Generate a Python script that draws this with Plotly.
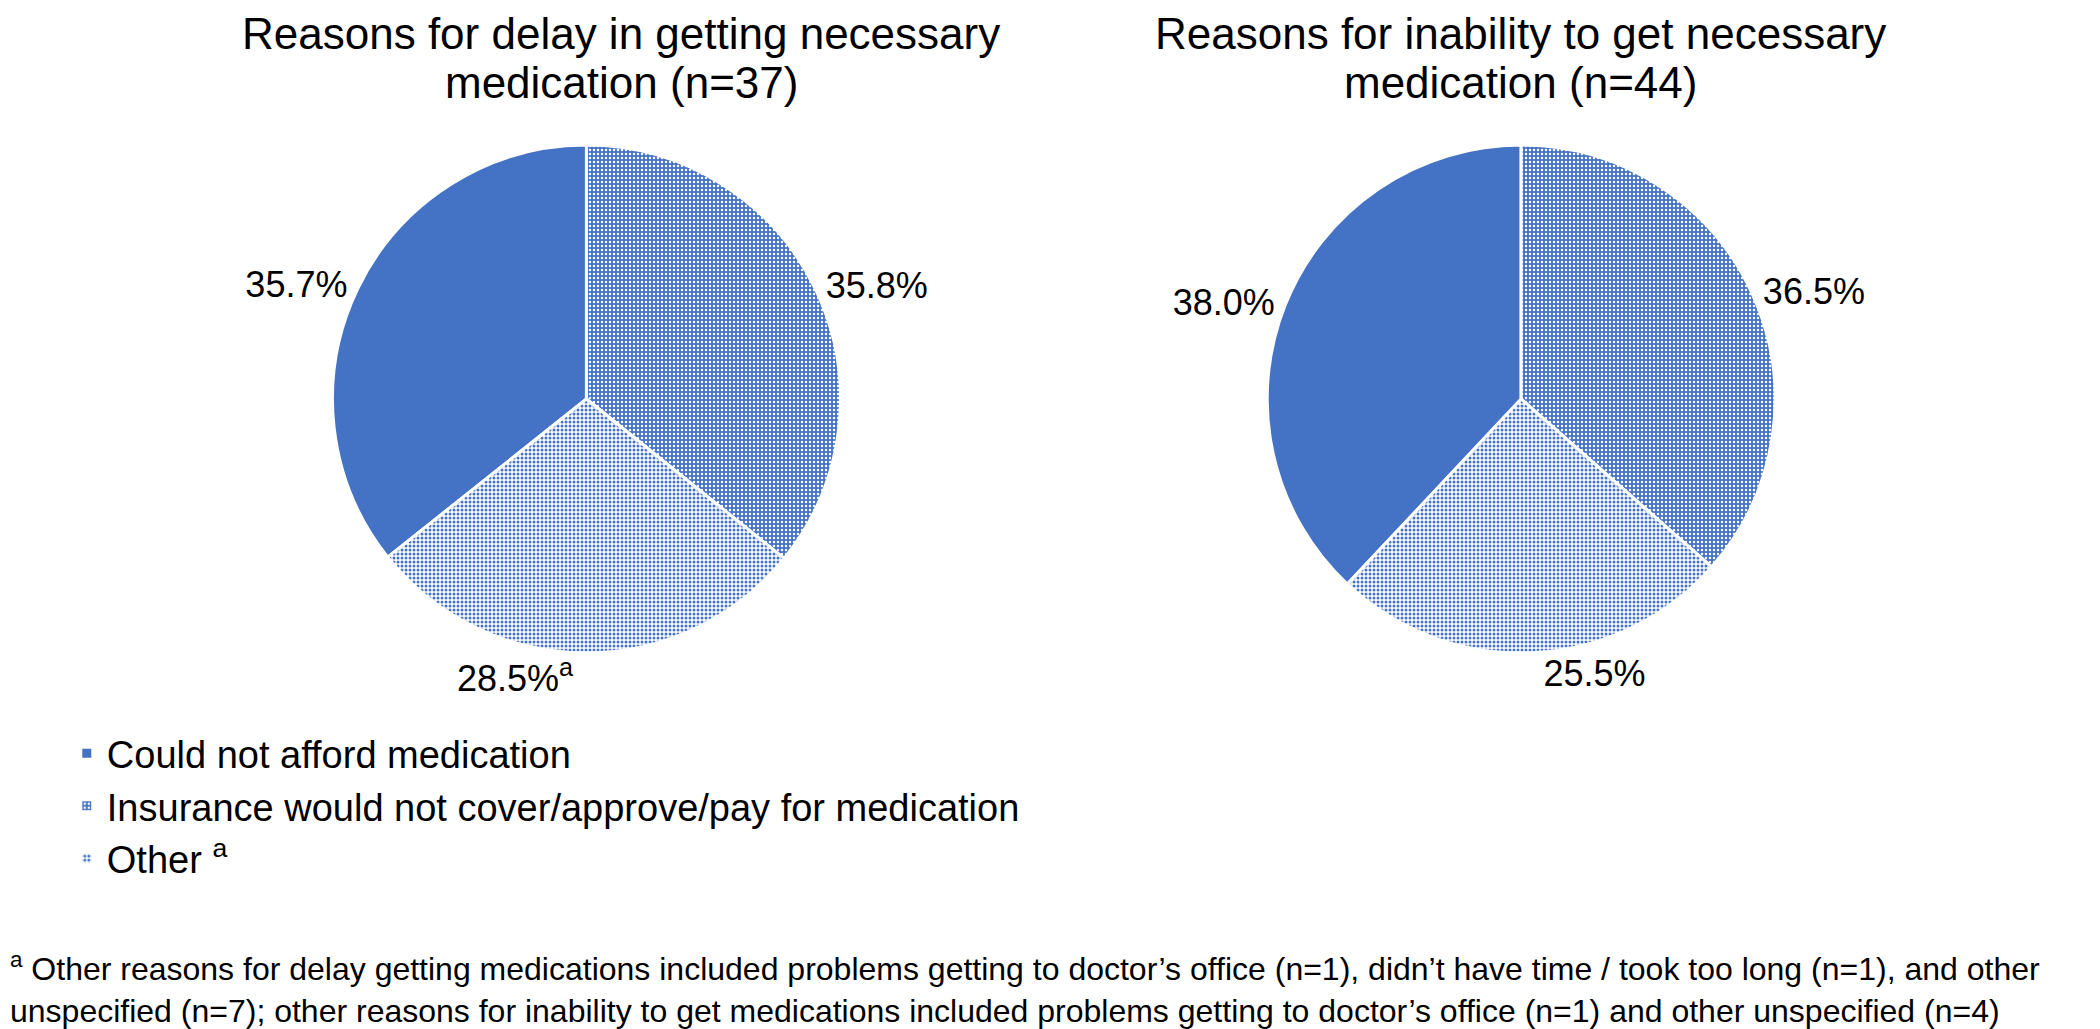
import plotly.graph_objects as go

categories = ["Could not afford medication",
              "Insurance would not cover/approve/pay for medication",
              "Other <sup>a</sup>"]
delay_values = [35.7, 35.8, 28.5]
inability_values = [38.0, 36.5, 25.5]
delay_labels = ["35.7%", "35.8%", "28.5%<sup>a</sup>"]
inability_labels = ["38.0%", "36.5%", "25.5%"]
title_lines = [["Reasons for delay in getting necessary", "medication (n=37)"],
               ["Reasons for inability to get necessary", "medication (n=44)"]]
footnote = ("<sup>a</sup> Other reasons for delay getting medications included problems getting to doctor’s office (n=1), "
            "didn’t have time / took too long (n=1), and other<br>unspecified (n=7); other reasons for inability to get "
            "medications included problems getting to doctor’s office (n=1) and other unspecified (n=4)")

FONT = "Liberation Sans, Arial"
BLUE = "#4472C4"
W, H = 2100, 1029

pattern = dict(shape=["", ".", "."],
               fgcolor=[BLUE, "white", BLUE],
               bgcolor=[BLUE, BLUE, "white"],
               size=[4, 4, 4],
               solidity=[0.3, 0.3, 0.45],
               fillmode="replace")

def pie(values, labels, domain_x, showlegend):
    return go.Pie(
        labels=categories, values=values, text=labels,
        texttemplate="%{text}", textposition="outside",
        textfont=dict(family=FONT, size=36, color="black"),
        sort=False, direction="clockwise",
        rotation=-values[0] * 3.6,
        marker=dict(colors=[BLUE, BLUE, BLUE], line=dict(color="white", width=3), pattern=pattern),
        domain=dict(x=domain_x, y=[0.3732, 0.8668]),
        showlegend=showlegend, hoverinfo="skip", automargin=False,
    )

fig = go.Figure()
fig.add_trace(pie(delay_values, delay_labels, [0.1545, 0.3964], True))
fig.add_trace(pie(inability_values, inability_labels, [0.5996, 0.8415], False))

title_x = [0.292, 0.720]
line_y = [1.0, 0.9524]
for tx, lines in zip(title_x, title_lines):
    for ly, line in zip(line_y, lines):
        fig.add_annotation(text=line, x=tx, y=ly, xref="paper", yref="paper",
                           xanchor="center", yanchor="top", showarrow=False, borderpad=0,
                           font=dict(family=FONT, size=44, color="black"))

fig.add_annotation(text=footnote, x=0.0, y=0.006, xref="paper", yref="paper",
                   xanchor="left", yanchor="bottom", align="left", showarrow=False,
                   font=dict(family=FONT, size=32, color="black"))

fig.update_layout(
    width=W, height=H,
    margin=dict(l=0, r=0, t=0, b=0),
    paper_bgcolor="white", plot_bgcolor="white",
    font=dict(family=FONT, color="black"),
    legend=dict(x=0.028, y=0.306, xanchor="left", yanchor="top",
                font=dict(family=FONT, size=38, color="black"),
                traceorder="normal"),
)

fig.write_html("out.html")
